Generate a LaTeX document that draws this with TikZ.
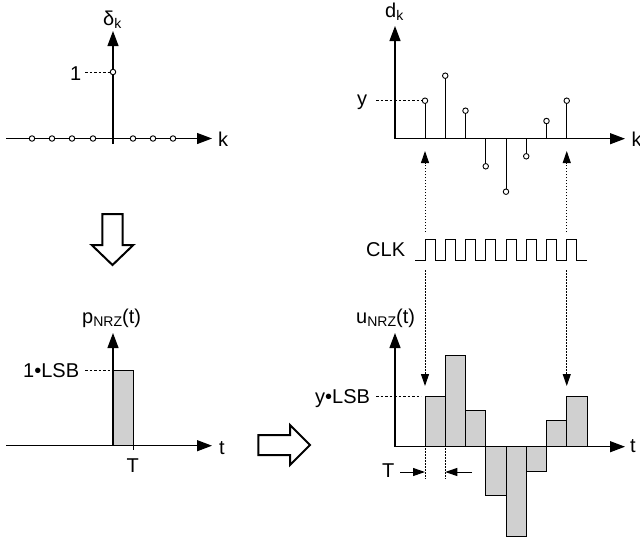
\documentclass[tikz,border=0pt]{standalone}
\usepackage{fontspec}
\setmainfont{Liberation Sans}
\usetikzlibrary{arrows.meta}
\definecolor{barfill}{RGB}{208,208,208}
\newcommand{\subs}[1]{\raisebox{-3.5pt}{\fontsize{14}{14}\selectfont #1}}
\begin{document}
\begin{tikzpicture}[x=1pt,y=-1pt,
  axis/.style={line width=1.2pt,-{Triangle[length=15pt,width=11pt]}},
  stem/.style={line width=1pt},
  sdot/.style={circle,draw,fill=white,inner sep=0pt,minimum size=5.5pt,line width=0.9pt},
  refline/.style={line width=0.8pt,dash pattern=on 2.5pt off 2pt},
  dotline/.style={line width=1pt,dash pattern=on 1.5pt off 1.5pt},
  dotarrow/.style={dotline,-{Triangle[length=12pt,width=8pt]}},
  tarrow/.style={line width=1pt,-{Triangle[length=12pt,width=8pt]}},
  barbox/.style={draw,fill=barfill,line width=1pt},
  lbl/.style={inner sep=0pt,anchor=base west,font=\fontsize{20}{24}\selectfont},
  bigarrow/.style={draw,line width=2pt,fill=white,line join=miter}]
\useasboundingbox (0,0) rectangle (640,541);

% ---------- top-left: delta_k ----------
\coordinate (dlo) at (113,144);
\coordinate (dhi) at (113,31);
\coordinate (hlo) at (6,138.5);
\coordinate (hhi) at (212,138.5);
\draw[line width=1.2pt] (dlo) -- (113,138.5);
\draw[axis] (113,138.5) -- (dhi);
\draw[axis] (hlo) -- (hhi);
\draw[stem] (113,138.5) -- (113,72);
\node[sdot] (d0) at (113,72) {};
\foreach \x/\n in {32/a,52/b,72/c,93/d,133/e,153/f,173/g}
  \node[sdot] (dd\n) at (\x,138.5) {};
\coordinate (oneend) at (85,72);
\draw[refline] (oneend) -- (d0.west);
\node[lbl] (lone) at (70,80) {1};
\node[lbl] (ldelta) at (103,25) {δ\subs{k}};
\node[lbl] (lk1) at (218,146.5) {k};

% ---------- big hollow arrows ----------
\draw[bigarrow] (102.3,214) -- (122.7,214) -- (122.7,245) -- (133.3,245) -- (112.5,265)
  -- (91.7,245) -- (102.3,245) -- cycle;
\draw[bigarrow] (258.3,435) -- (290,435) -- (290,425) -- (310,445) -- (290,465)
  -- (290,455) -- (258.3,455) -- cycle;

% ---------- top-right: d_k ----------
\draw[axis] (395,138.7) -- (395,26);
\draw[axis] (395,138.7) -- (625,138.7);
\foreach \i/\y in {0/100.7,1/75.7,2/110.7,3/166.3,4/191.7,5/156.3,6/121,7/100.7}{
  \pgfmathsetmacro{\xx}{425+20.25*\i}
  \draw[stem] (\xx,138.7) -- (\xx,\y);
  \node[sdot] (s\i) at (\xx,\y) {};
}
\coordinate (yend) at (376,100.7);
\draw[refline] (yend) -- (s0.west);
\node[lbl] (ly) at (357,105) {y};
\node[lbl] (ldk) at (385,17.3) {d\subs{k}};
\node[lbl] (lk2) at (631.5,146.7) {k};

% ---------- CLK ----------
\node[lbl] (lclk) at (366,256) {CLK};
\draw[line width=1pt] (415,260)
  \foreach \i in {0,...,7}{
    -- ({425+20.25*\i},260) -- ({425+20.25*\i},239) -- ({435+20.25*\i},239) -- ({435+20.25*\i},260)
  } -- (587,260);

% ---------- dotted arrows ----------
\coordinate (a1) at (425,232);
\coordinate (a1t) at (425,151);
\coordinate (a2) at (425,270);
\coordinate (a2t) at (425,386);
\coordinate (b1) at (566.75,232);
\coordinate (b1t) at (566.75,151);
\coordinate (b2) at (566.75,270);
\coordinate (b2t) at (566.75,386);
\draw[dotarrow] (a1) -- (a1t);
\draw[dotarrow] (a2) -- (a2t);
\draw[dotarrow] (b1) -- (b1t);
\draw[dotarrow] (b2) -- (b2t);

% ---------- bottom-right: u_NRZ ----------
\foreach \i/\y in {0/396,1/355,2/410.7,3/495.7,4/536.7,5/471.7,6/420.7,7/396}{
  \pgfmathsetmacro{\xa}{425+20.25*\i}
  \pgfmathsetmacro{\xb}{425+20.25*(\i+1)}
  \draw[barbox] (\xa,446.7) rectangle (\xb,\y);
}
\draw[axis] (395,446.7) -- (395,333);
\draw[axis] (395,446.7) -- (625,446.7);
\coordinate (ylsbend) at (376,396);
\coordinate (ylsbbar) at (421,396);
\draw[refline] (ylsbend) -- (ylsbbar);
\node[lbl] (lylsb) at (315,403) {y•LSB};
\node[lbl] (lu) at (356,323) {u\subs{NRZ}(t)};
\node[lbl] (lt2) at (630,452.5) {t};
% T marker
\coordinate (t1a) at (425,448);
\coordinate (t1b) at (425,479);
\coordinate (t2a) at (445.25,448);
\coordinate (t2b) at (445.25,479);
\draw[dotline] (t1a) -- (t1b);
\draw[dotline] (t2a) -- (t2b);
\node[lbl] (lT2) at (382,477) {T};
\coordinate (ta) at (400,472);
\coordinate (tb) at (425,472);
\coordinate (tc) at (472,472);
\coordinate (td) at (445.25,472);
\draw[tarrow] (ta) -- (tb);
\draw[tarrow] (tc) -- (td);

% ---------- bottom-left: p_NRZ ----------
\draw[barbox] (113,445.7) rectangle (133.3,370.7);
\draw[line width=1pt] (133.3,445.7) -- (133.3,450);
\draw[axis] (113,445.7) -- (113,333);
\draw[axis] (6,445.7) -- (212,445.7);
\coordinate (lsbend) at (85,370.7);
\coordinate (lsbbar) at (111,370.7);
\draw[refline] (lsbend) -- (lsbbar);
\node[lbl] (l1lsb) at (23,377) {1•LSB};
\node[lbl] (lp) at (82,323) {p\subs{NRZ}(t)};
\node[lbl] (lT1) at (126.5,472.7) {T};
\node[lbl] (lt1) at (219,454) {t};
\end{tikzpicture}
\end{document}
